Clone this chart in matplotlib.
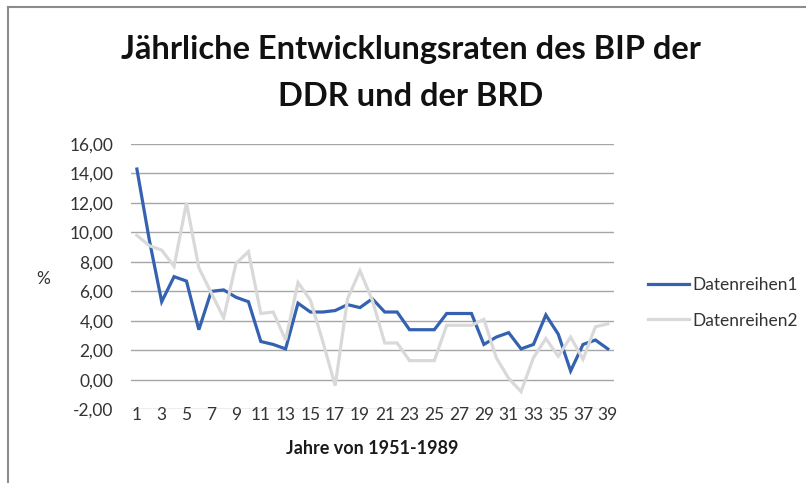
import matplotlib
matplotlib.use("Agg")
import matplotlib.pyplot as plt
from matplotlib.lines import Line2D
from matplotlib.ticker import FuncFormatter

plt.rcParams["font.family"] = ["Lato", "DejaVu Sans"]

# Jahre 1..39 (1951-1989)
years = list(range(1, 40))

# DDR
series1 = [14.3, 9.5, 5.3, 7.0, 6.7, 3.4, 6.0, 6.1, 5.6, 5.3,
           2.6, 2.4, 2.1, 5.2, 4.6, 4.6, 4.7, 5.1, 4.9, 5.5,
           4.6, 4.6, 3.4, 3.4, 3.4, 4.5, 4.5, 4.5, 2.4, 2.9,
           3.2, 2.1, 2.4, 4.4, 3.1, 0.6, 2.4, 2.7, 2.1]
# BRD
series2 = [9.8, 9.1, 8.8, 7.7, 12.0, 7.6, 5.9, 4.2, 7.9, 8.7,
           4.5, 4.6, 2.7, 6.6, 5.4, 2.6, -0.4, 5.5, 7.4, 5.4,
           2.5, 2.5, 1.3, 1.3, 1.3, 3.7, 3.7, 3.7, 4.1, 1.5,
           0.1, -0.8, 1.5, 2.8, 1.6, 2.9, 1.4, 3.6, 3.8]

labels = ["Datenreihen1", "Datenreihen2"]
title = "Jährliche Entwicklungsraten des BIP der\nDDR und der BRD"

W, H = 806, 483
fig = plt.figure(figsize=(W / 100, H / 100), dpi=100)
ax = fig.add_axes([130.7 / W, 1 - 409.3 / H, 483.3 / W, (409.3 - 144) / H])

ax.plot(years, series1, color="#3462B0", lw=2.3, label=labels[0], solid_joinstyle="miter")
ax.plot(years, series2, color="#D9D9D9", lw=2.3, label=labels[1], solid_joinstyle="miter")

ax.set_xlim(0.5, 39.5)
ax.set_ylim(-2, 16)
ax.set_yticks(range(-2, 17, 2))
ax.yaxis.set_major_formatter(FuncFormatter(lambda v, p: f"{v:.2f}".replace(".", ",")))
ax.set_xticks(years[::2])
ax.grid(axis="y", color="#A6A6A6", lw=1)
ax.set_axisbelow(True)
for s in ax.spines.values():
    s.set_visible(False)
ax.tick_params(axis="y", length=0, pad=12.5, labelsize=12.5, labelcolor="#333333")
ax.tick_params(axis="x", length=0, pad=-1.5, labelsize=12.5, labelcolor="#333333")

fig.text(372 / W, 1 - 449 / H, "Jahre von 1951-1989", ha="center", va="center",
         fontsize=13, fontweight="bold", color="#1a1a1a")
fig.text(43 / W, 1 - 279 / H, "%", ha="center", va="center", fontsize=12.5, color="#333333")
fig.text(411 / W, 1 - 73 / H, title, ha="center", va="center", fontsize=23.5,
         fontweight="bold", linespacing=1.72, color="#111111")

fig.legend(loc="center left", bbox_to_anchor=(632 / W, 1 - 303 / H), frameon=False,
           fontsize=12.5, handlelength=2.4, handletextpad=0.15, labelspacing=1.1,
           labelcolor="#333333")

# chart-area border (top and left only visible)
fig.add_artist(Line2D([8 / W, 8 / W], [0, 1 - 7 / H], transform=fig.transFigure, color="#8c8c8c", lw=1.5))
fig.add_artist(Line2D([8 / W, 1], [1 - 7 / H, 1 - 7 / H], transform=fig.transFigure, color="#8c8c8c", lw=1.5))

fig.savefig("out.png", dpi=100)
